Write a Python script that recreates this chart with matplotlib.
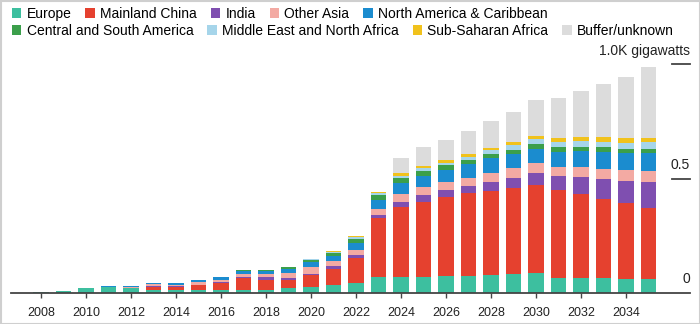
import matplotlib.pyplot as plt
import numpy as np
from matplotlib.patches import Patch, Rectangle
from matplotlib.transforms import blended_transform_factory

plt.rcParams['font.family'] = ['Liberation Sans', 'DejaVu Sans']

# Installed capacity by region, gigawatts
years = list(range(2008, 2036))
europe = [2, 7, 18, 25, 18, 11, 11, 12, 9, 10, 10, 19, 22, 34, 41, 66,
          67, 69, 72, 74, 75, 80, 84, 65, 62, 62, 59, 58]
mainland_china = [0, 0, 0, 0, 3, 14, 14, 20, 33, 52, 47, 36, 54, 69, 110, 259,
                  307, 329, 346, 361, 371, 377, 387, 385, 370, 348, 332, 311]
india = [0, 0, 0, 0, 0, 2, 2, 3, 4, 6, 9, 7, 5, 12, 15, 15,
         25, 30, 32, 33, 37, 46, 54, 61, 76, 88, 99, 117]
other_asia = [0, 0, 0, 1, 3, 9, 6, 11, 9, 12, 17, 25, 32, 22, 19, 25,
              33, 33, 36, 35, 40, 42, 42, 41, 41, 44, 47, 48]
north_america = [0, 0, 0, 1, 6, 7, 8, 9, 14, 15, 12, 17, 21, 25, 32, 42,
                 50, 50, 52, 61, 66, 62, 62, 66, 72, 76, 73, 76]
central_south_america = [0, 0, 0, 0, 0, 0, 0, 0, 0, 2, 3, 7, 9, 12, 18, 22,
                         20, 23, 21, 17, 17, 18, 21, 21, 18, 19, 19, 19]
middle_east = [0, 0, 0, 0, 0, 0, 0, 0, 0, 0, 0, 1, 2, 3, 7, 7,
               10, 11, 11, 15, 19, 22, 23, 22, 27, 24, 28, 30]
sub_saharan = [0, 0, 0, 0, 0, 0, 0, 0, 0, 0, 0, 1, 1, 4, 7, 6,
               10, 10, 9, 10, 10, 12, 13, 15, 17, 20, 19, 20]
buffer_unknown = [0] * 16 + [68, 82, 91, 104, 119, 131, 158, 178, 202, 232, 270, 311]

series = [
    ("Europe", europe, "#3dbf9f"),
    ("Mainland China", mainland_china, "#e5412f"),
    ("India", india, "#7f4fb0"),
    ("Other Asia", other_asia, "#f3aaa3"),
    ("North America & Caribbean", north_america, "#1b8ccf"),
    ("Central and South America", central_south_america, "#3b9f4b"),
    ("Middle East and North Africa", middle_east, "#a6d5ea"),
    ("Sub-Saharan Africa", sub_saharan, "#f1c21c"),
    ("Buffer/unknown", buffer_unknown, "#dcdcdc"),
]

W, H = 700, 324
fig = plt.figure(figsize=(W / 100, H / 100), dpi=100)
base_px, top_px, left_px, right_px = 292.5, 60, 11, 690
ax = fig.add_axes([left_px / W, (H - base_px) / H,
                   (right_px - left_px) / W, (base_px - top_px) / H])

bottom = np.zeros(len(years))
for name, vals, color in series:
    ax.bar(years, vals, width=0.71, bottom=bottom, color=color, linewidth=0)
    bottom += np.array(vals)

ax.set_xlim(2008 - (41 - left_px) / 22.5, 2008 + (right_px - 41) / 22.5)
ax.set_ylim(0, (base_px - top_px) / 0.228)

for side in ["top", "left", "right"]:
    ax.spines[side].set_visible(False)
ax.spines["bottom"].set_color("#444444")
ax.spines["bottom"].set_linewidth(1.3)
ax.set_yticks([])
ax.set_xticks(range(2008, 2035, 2))
ax.tick_params(axis="x", length=3.6, width=1, color="#444444",
               labelsize=9, labelcolor="#222222", pad=7)

# value scale on the right, labels sitting above short rules
trans = blended_transform_factory(ax.transAxes, ax.transData)
for v, label in [(0, "0"), (500, "0.5"), (1000, "1.0K gigawatts")]:
    if v > 0:
        ax.plot([(672 - left_px) / (right_px - left_px), 1.0], [v, v],
                transform=trans, color="#444444", lw=1.3, clip_on=False)
    ax.annotate(label, xy=(1.0, v), xycoords=trans, xytext=(0, 5),
                textcoords="offset points", ha="right", va="bottom",
                fontsize=10, color="#222222")

handles = [Patch(facecolor=c, edgecolor="none") for _, _, c in series]
labels = [n for n, _, _ in series]
legend_kw = dict(loc="upper left", frameon=False, fontsize=10,
                 handlelength=0.68, handleheight=0.68, handletextpad=0.38,
                 columnspacing=1.0, borderpad=0, borderaxespad=0)
fig.legend(handles[:5], labels[:5], ncol=5,
           bbox_to_anchor=(12 / W, 1 - 7 / H), **legend_kw)
fig.legend(handles[5:], labels[5:], ncol=4,
           bbox_to_anchor=(12 / W, 1 - 24 / H), **legend_kw)

fig.add_artist(Rectangle((0.5 / W, 0.5 / H), 1 - 1 / W, 1 - 1 / H,
                         transform=fig.transFigure, fill=False,
                         edgecolor="#cfcfcf", lw=1.5))

fig.savefig("out.png", dpi=100)
